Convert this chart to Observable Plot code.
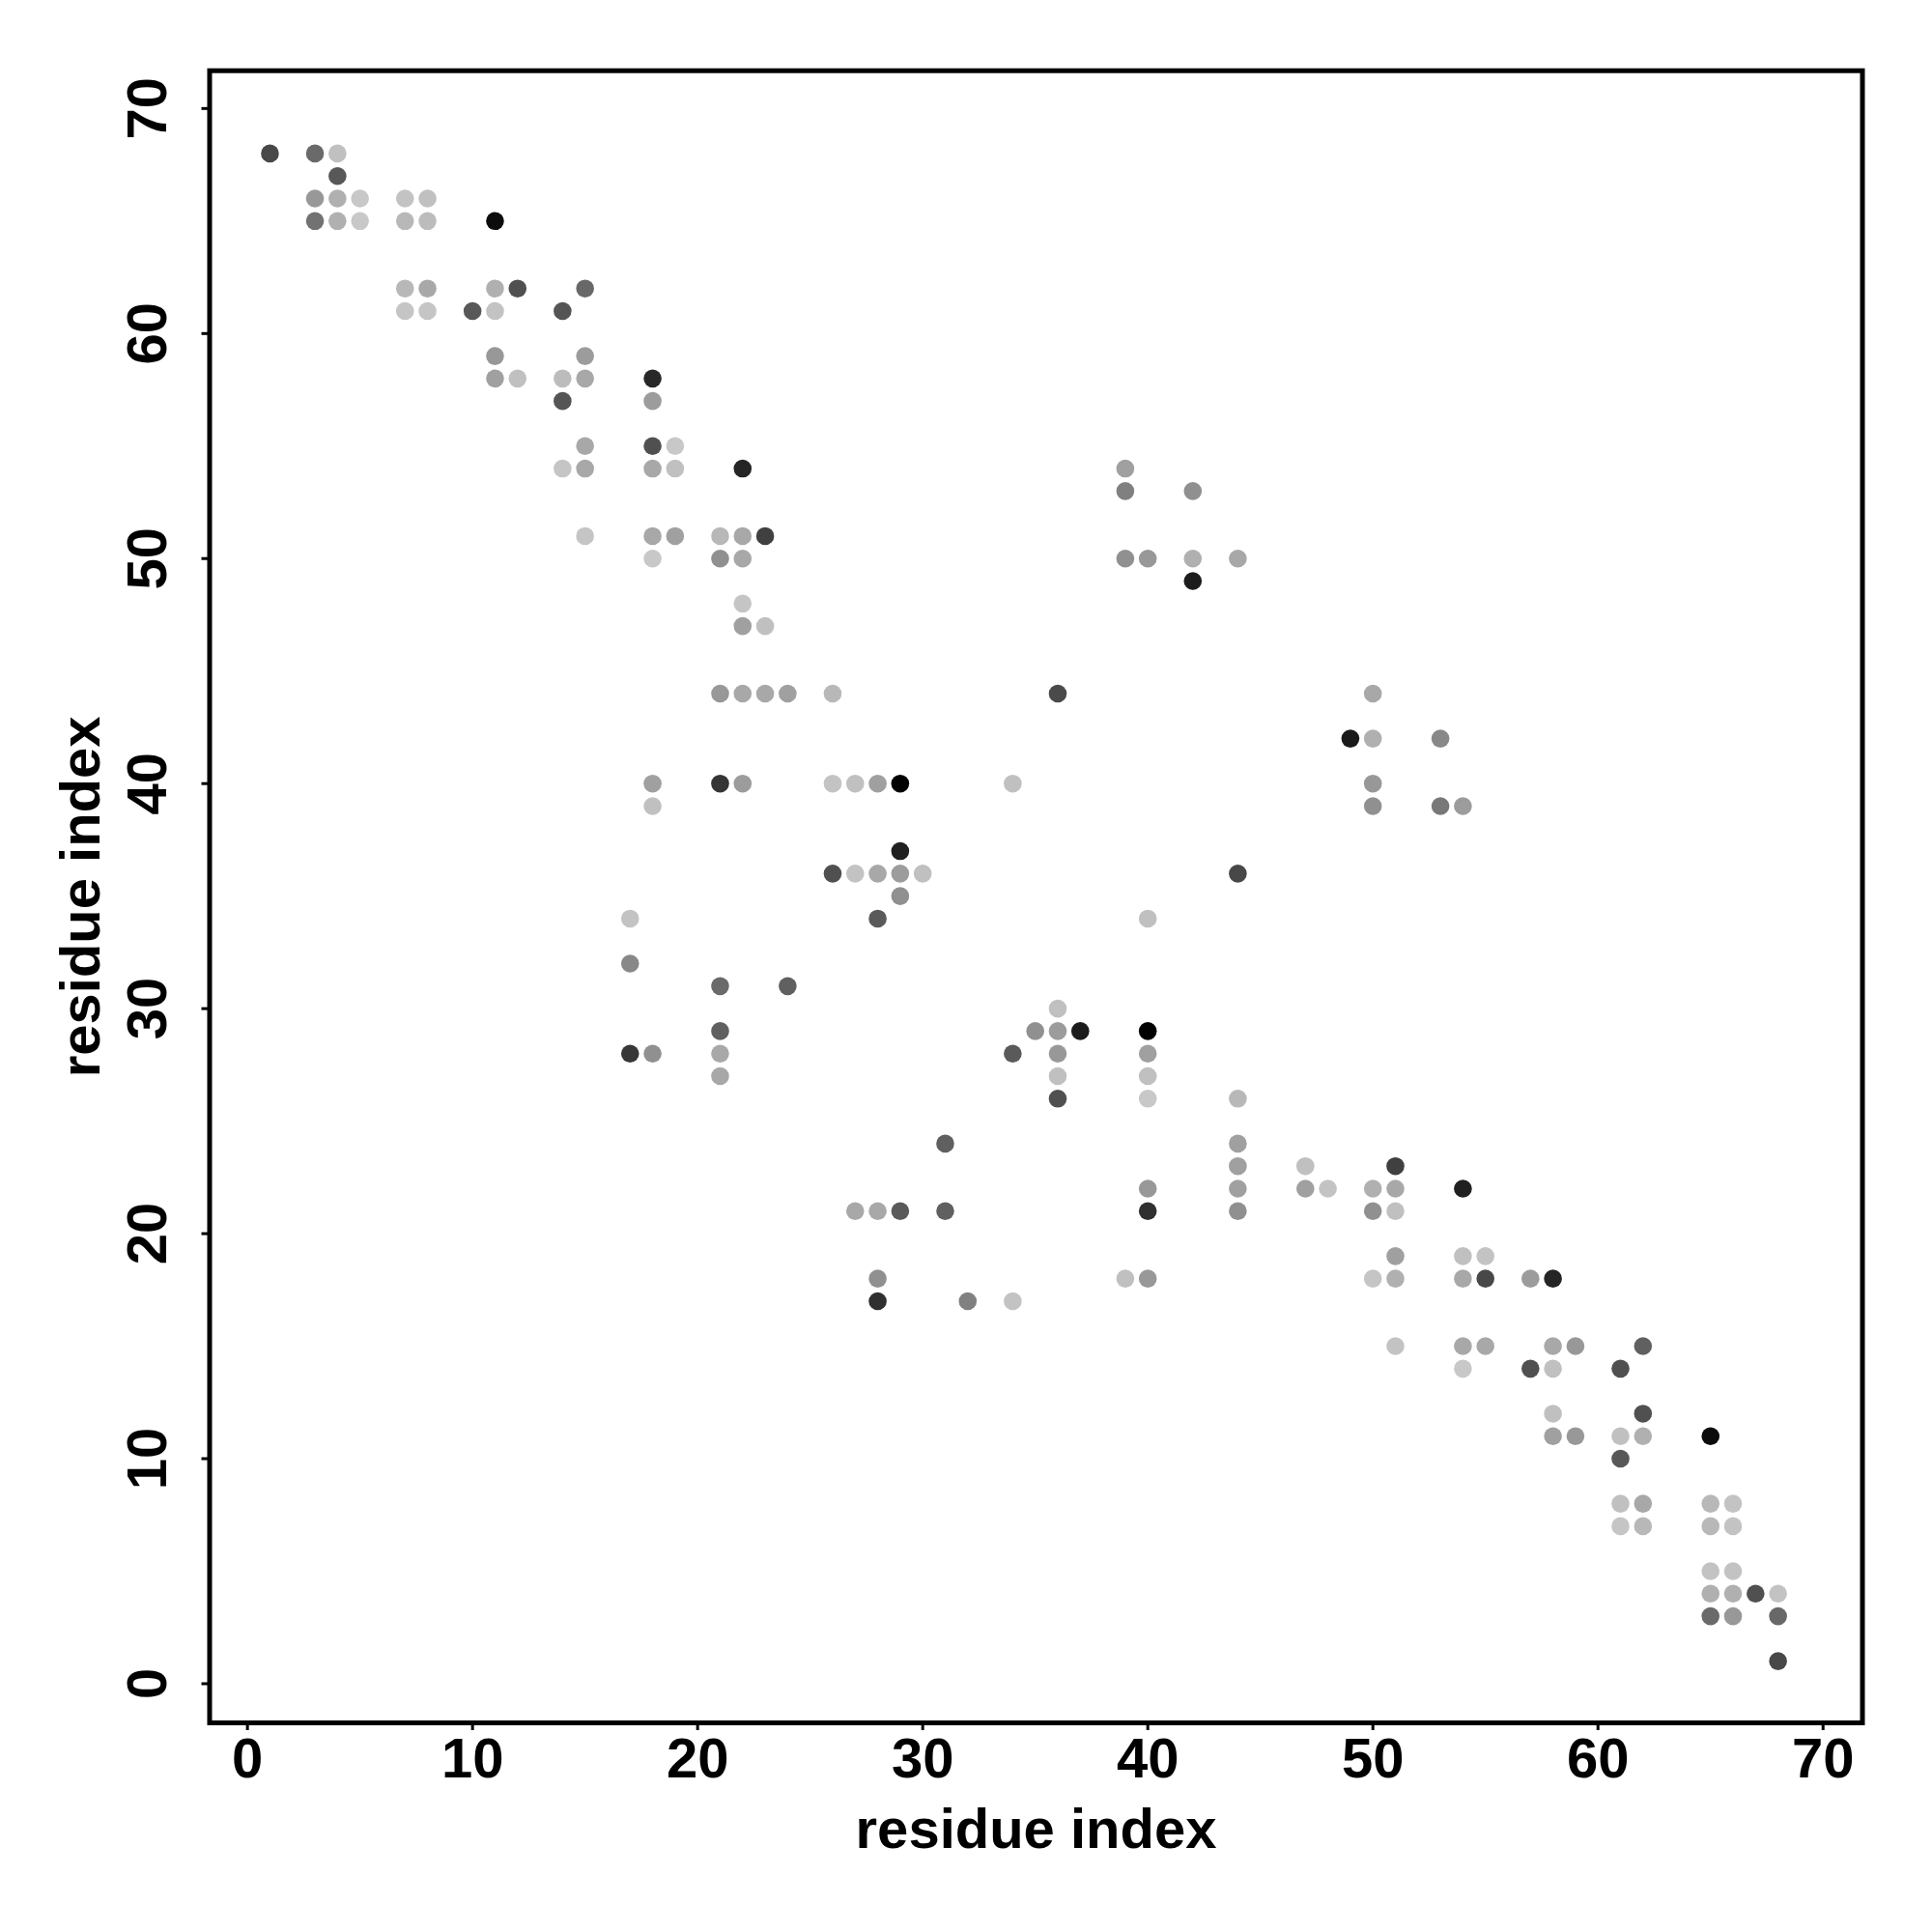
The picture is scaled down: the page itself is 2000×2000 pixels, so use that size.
<!DOCTYPE html>
<html>
<head>
<meta charset="utf-8">
<script src="https://cdn.jsdelivr.net/npm/d3@7"></script>
<script src="https://cdn.jsdelivr.net/npm/@observablehq/plot@0.6"></script>
<style>
  html, body { margin: 0; padding: 0; background: #fff; }
  #chart svg { display: block; }
</style>
</head>
<body>
<div id="chart"></div>
<script>
// residue i (x), residue j (y), gray level of the dot (0 = black, 255 = white)
const resI = [1,3,4,4,3,4,5,7,8,3,4,5,7,8,11,7,8,11,12,15,7,8,10,11,14,11,15,11,12,14,15,18,14,18,15,18,19,14,15,18,19,22,39,39,42,15,18,19,21,22,23,18,21,22,39,40,42,44,42,22,22,23,21,22,23,24,26,36,50,49,50,53,18,21,22,26,27,28,29,34,50,18,50,53,54,29,26,27,28,29,30,44,29,17,28,40,17,21,24,36,21,35,36,37,40,17,18,21,34,36,40,21,36,40,36,40,44,31,44,44,47,51,40,44,47,48,50,51,54,27,28,29,31,40,44,50,51,51,54,55,28,39,40,50,51,54,55,57,58,28,32,34,51,54,55,58,59,62,54,57,58,61,58,62,58,59,61,62,65,61,61,62,65,66,61,62,65,66,65,66,65,66,67,68,65,66,68,68];
const resJ = [68,68,68,67,66,66,66,66,66,65,65,65,65,65,65,62,62,62,62,62,61,61,61,61,61,59,59,58,58,58,58,58,57,57,55,55,55,54,54,54,54,54,54,53,53,51,51,51,51,51,51,50,50,50,50,50,50,50,49,48,47,47,44,44,44,44,44,44,44,42,42,42,40,40,40,40,40,40,40,40,40,39,39,39,39,37,36,36,36,36,36,36,35,34,34,34,32,31,31,30,29,29,29,29,29,28,28,28,28,28,28,27,27,27,26,26,26,24,24,23,23,23,22,22,22,22,22,22,22,21,21,21,21,21,21,21,21,19,19,19,18,18,18,18,18,18,18,18,18,17,17,17,15,15,15,15,15,15,14,14,14,14,12,12,11,11,11,11,11,10,8,8,8,8,7,7,7,7,5,5,4,4,4,4,3,3,3,1];
const grayLevel = [0x48,0x6a,0xc0,0x58,0x98,0xb0,0xc8,0xc3,0xc0,0x72,0xb0,0xc8,0xb8,0xbc,0x0c,0xb8,0xa8,0xb0,0x50,0x68,0xc5,0xc5,0x58,0xc3,0x55,0x98,0x9c,0xa0,0xc0,0xbc,0xa8,0x28,0x55,0x9c,0xa8,0x50,0xc8,0xc5,0xa8,0xa8,0xc0,0x25,0xa0,0x80,0x90,0xc5,0xa8,0xa0,0xb8,0xa8,0x40,0xc8,0x90,0xa8,0x90,0x98,0xb0,0xa8,0x1c,0xc5,0xa0,0xc0,0x98,0xa8,0xa8,0xa0,0xb8,0x4a,0xa8,0x1a,0xb0,0x88,0xa0,0x35,0x9c,0xc3,0xc0,0xa0,0x02,0xc0,0x98,0xc0,0x90,0x78,0x9c,0x20,0x50,0xc3,0xa8,0x9c,0xc0,0x48,0x90,0xc3,0x5a,0xc0,0x88,0x6a,0x60,0xc0,0x60,0x90,0x9c,0x1c,0x02,0x38,0x90,0xa8,0x5a,0x98,0xa0,0xa8,0xc0,0xc0,0x50,0xc8,0xb8,0x60,0xa0,0xa0,0xc0,0x40,0x98,0xa0,0xa0,0xc3,0xb0,0xa8,0x20,0xa8,0xa8,0x5a,0x60,0x30,0x90,0x90,0xc0,0xa0,0xc0,0xc3,0x90,0xc0,0x98,0xc5,0xb0,0xa8,0x48,0x9c,0x25,0x30,0x80,0xc3,0xc3,0xa8,0xa8,0xa8,0x98,0x60,0xc8,0x50,0xc0,0x50,0xc0,0x50,0xa0,0x98,0xc0,0xb0,0x0c,0x58,0xc0,0xa8,0xb8,0xc3,0xc5,0xb8,0xb8,0xc3,0xc3,0xc3,0xb0,0xb0,0x50,0xc3,0x6a,0x98,0x68,0x48];

const xTicks = [0,10,20,30,40,50,60,70];
const yTicks = [0,10,20,30,40,50,60,70];
const xTitle = "residue index";
const yTitle = "residue index";

const contacts = resI.map((x, k) => ({x, y: resJ[k], g: grayLevel[k]}));

const FONT = "'Liberation Sans', Arial, Helvetica, sans-serif";

const chart = Plot.plot({
  width: 2000,
  height: 2000,
  marginLeft: 216.5,
  marginRight: 72.5,
  marginTop: 72.7,
  marginBottom: 217,
  style: {fontFamily: FONT, fontSize: "58px", fontWeight: "bold", background: "#fff", color: "#000"},
  x: {domain: [-1.68, 71.75], label: null},
  y: {domain: [-1.74, 71.68], label: null},
  color: {type: "identity"},
  marks: [
    Plot.dot(contacts, {x: "x", y: "y", r: 9.3, fill: d => `rgb(${d.g},${d.g},${d.g})`, stroke: "none"}),
    Plot.frame({stroke: "#000", strokeWidth: 5}),
    Plot.axisX({ticks: xTicks, tickSize: 8, tickPadding: 7, strokeWidth: 3, label: null,
      fontSize: 58, fontWeight: "bold", fontFamily: FONT}),
    Plot.axisY({ticks: yTicks, tickSize: 8, tickPadding: 36.8, tickRotate: -90,
      textAnchor: "middle", lineAnchor: "bottom", strokeWidth: 3, label: null,
      fontSize: 58, fontWeight: "bold", fontFamily: FONT}),
    Plot.text([xTitle], {text: d => d, frameAnchor: "bottom", dy: 129, lineAnchor: "bottom",
      textAnchor: "middle", fontSize: 58, fontWeight: "bold", fontFamily: FONT}),
    Plot.text([yTitle], {text: d => d, frameAnchor: "left", dx: -114.5, rotate: -90, lineAnchor: "bottom",
      textAnchor: "middle", fontSize: 58, fontWeight: "bold", fontFamily: FONT})
  ]
});

document.getElementById("chart").appendChild(chart);
</script>
</body>
</html>
